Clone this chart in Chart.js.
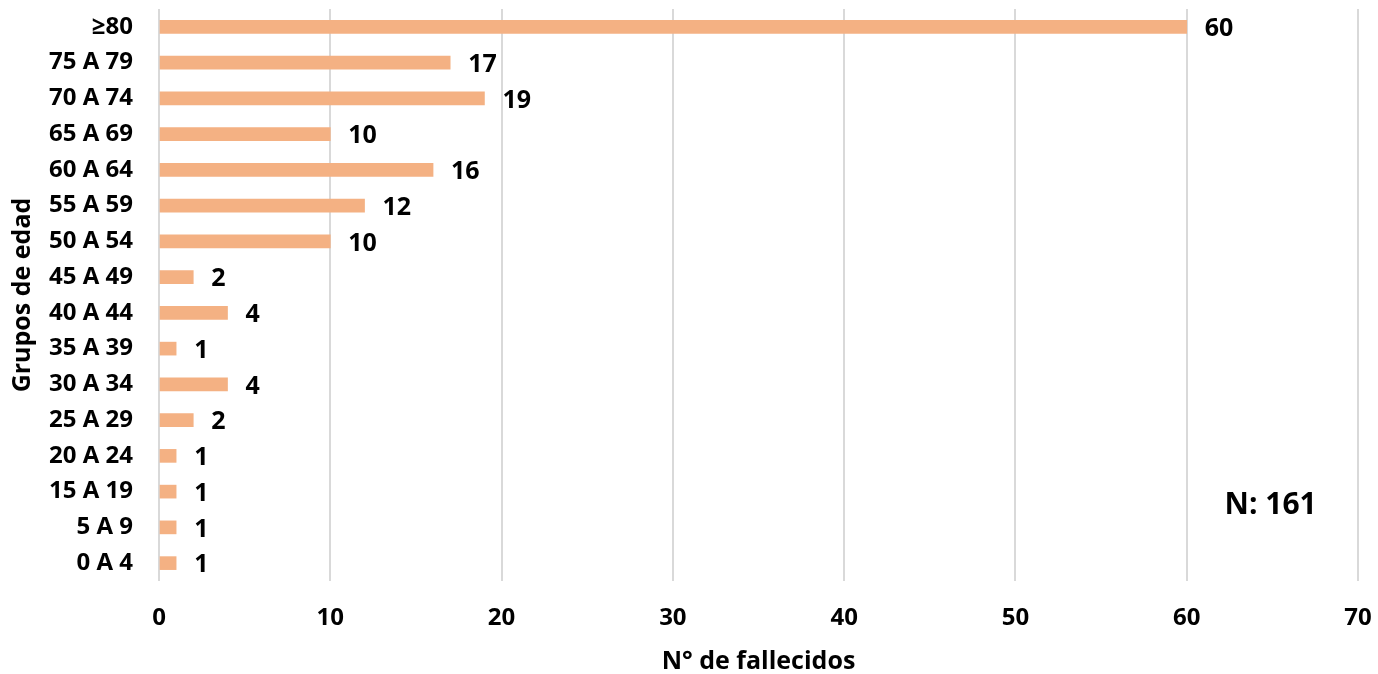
<!DOCTYPE html>
<html>
<head>
<meta charset="utf-8">
<script src="https://cdn.jsdelivr.net/npm/chart.js@4"></script>
<style>
html,body{margin:0;padding:0;background:#fff;}
#wrap{width:1378px;height:674px;position:relative;}
</style>
</head>
<body>
<div id="wrap"><canvas id="c" width="1378" height="674"></canvas></div>
<script>
const categories = ["≥80","75 A 79","70 A 74","65 A 69","60 A 64","55 A 59","50 A 54","45 A 49","40 A 44","35 A 39","30 A 34","25 A 29","20 A 24","15 A 19","5 A 9","0 A 4"];
const fallecidos = [60,17,19,10,16,12,10,2,4,1,4,2,1,1,1,1];
const xTicks = [0,10,20,30,40,50,60,70];
const totalLabel = "N: 161";

const FONT = "'Open Sans', sans-serif";

const valueLabels = {
  id: 'valueLabels',
  afterDatasetsDraw(chart) {
    const ctx = chart.ctx;
    const meta = chart.getDatasetMeta(0);
    ctx.save();
    ctx.font = "bold 25px " + FONT;
    ctx.fillStyle = "#000";
    ctx.textBaseline = "middle";
    ctx.textAlign = "left";
    meta.data.forEach((bar, i) => {
      ctx.fillText(String(fallecidos[i]), bar.x + 18, bar.y + 2);
    });
    const xs = chart.scales.x, ys = chart.scales.y;
    ctx.font = "bold 30px " + FONT;
    ctx.textAlign = "center";
    ctx.fillText(totalLabel, xs.getPixelForValue(64.9), ys.getPixelForValue(13.4));
    ctx.restore();
  }
};

new Chart(document.getElementById('c'), {
  type: 'bar',
  data: {
    labels: categories,
    datasets: [{
      data: fallecidos,
      backgroundColor: '#F4B183',
      barThickness: 13
    }]
  },
  options: {
    indexAxis: 'y',
    responsive: false,
    animation: false,
    layout: { padding: { top: 9, right: 20, left: 0, bottom: 0 } },
    plugins: { legend: { display: false }, tooltip: { enabled: false } },
    scales: {
      x: {
        min: 0, max: 70,
        afterBuildTicks: s => { s.ticks = xTicks.map(v => ({ value: v })); },
        afterFit: s => { s.height = 93; s.paddingLeft = 0; s.paddingRight = 0; },
        grid: { color: '#d9d9d9', lineWidth: 2, drawTicks: false },
        border: { display: false },
        ticks: { color: '#000', font: { family: FONT, size: 24, weight: 'bold' }, padding: 23 },
        title: { display: true, text: 'N° de fallecidos', color: '#000', font: { family: FONT, size: 25, weight: 'bold', lineHeight: 1.0 }, padding: { top: 0, bottom: 0 } }
      },
      y: {
        afterFit: s => { s.width = 159; s.paddingTop = 0; s.paddingBottom = 0; },
        grid: { display: false, drawTicks: false },
        border: { display: false },
        ticks: { color: '#000', font: { family: FONT, size: 24, weight: 'bold' }, padding: 26, autoSkip: false },
        title: { display: true, text: 'Grupos de edad', color: '#000', font: { family: FONT, size: 25, weight: 'bold' }, padding: { top: 8, bottom: 0 } }
      }
    }
  },
  plugins: [valueLabels]
});
</script>
</body>
</html>
